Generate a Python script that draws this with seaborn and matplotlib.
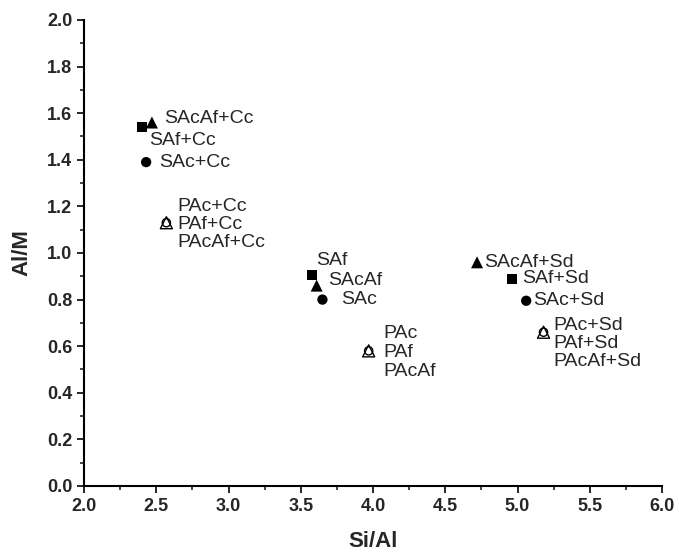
import pandas as pd
import matplotlib
matplotlib.use("Agg")
import matplotlib.pyplot as plt
import seaborn as sns
from matplotlib.ticker import MultipleLocator

# --- data ---
sac_si_al = [2.43, 3.65, 5.06]
sac_al_m = [1.39, 0.80, 0.795]
sac_labels = ["SAc+Cc", "SAc", "SAc+Sd"]

saf_si_al = [2.40, 3.58, 4.96]
saf_al_m = [1.54, 0.905, 0.89]
saf_labels = ["SAf+Cc", "SAf", "SAf+Sd"]

sacaf_si_al = [2.47, 3.61, 4.72]
sacaf_al_m = [1.56, 0.86, 0.96]
sacaf_labels = ["SAcAf+Cc", "SAcAf", "SAcAf+Sd"]

# PAc, PAf and PAcAf sit on top of each other
p_si_al = [2.57, 3.97, 5.18]
p_al_m = [1.13, 0.58, 0.66]
pac_labels = ["PAc+Cc", "PAc", "PAc+Sd"]
paf_labels = ["PAf+Cc", "PAf", "PAf+Sd"]
pacaf_labels = ["PAcAf+Cc", "PAcAf", "PAcAf+Sd"]

# label offsets in pixels (placement only)
sac_off = [(13, 0), (19, 0), (7, 0)]
saf_off = [(7, -13), (4, 15), (10, 0)]
sacaf_off = [(12, 4), (11, 5), (7, 0)]
p_off = [(11, 16), (15, 17), (10, 7)]
p_step = [18, 19, 18]

solid = pd.DataFrame({
    "Si/Al": sac_si_al + saf_si_al + sacaf_si_al,
    "Al/M": sac_al_m + saf_al_m + sacaf_al_m,
    "kind": ["SAc"] * 3 + ["SAf"] * 3 + ["SAcAf"] * 3,
})
hollow = pd.DataFrame({
    "Si/Al": p_si_al * 2,
    "Al/M": p_al_m * 2,
    "kind": ["PAcAf"] * 3 + ["PAc"] * 3,
})

sns.set_style("ticks")
plt.rcParams["font.family"] = ["Liberation Sans", "DejaVu Sans"]

fig = plt.figure(figsize=(6.79, 5.57), dpi=100)
ax = fig.add_axes([0.1237, 0.1275, 0.8513, 0.8366])

sns.scatterplot(data=solid, x="Si/Al", y="Al/M", style="kind", size="kind",
                markers={"SAc": "o", "SAf": "s", "SAcAf": "^"},
                sizes={"SAc": 55, "SAf": 50, "SAcAf": 75},
                color="black", edgecolor="black",
                linewidth=0, legend=False, ax=ax)
sns.scatterplot(data=hollow, x="Si/Al", y="Al/M", style="kind", size="kind",
                markers={"PAcAf": "^", "PAc": "o"},
                sizes={"PAcAf": 75, "PAc": 35},
                color="black", legend=False, ax=ax)
coll = ax.collections[-1]
coll.set_facecolor("none")
coll.set_edgecolor("black")
coll.set_linewidth(1.0)

fs = 14
for xs, ys, labs, offs in [(sac_si_al, sac_al_m, sac_labels, sac_off),
                           (saf_si_al, saf_al_m, saf_labels, saf_off),
                           (sacaf_si_al, sacaf_al_m, sacaf_labels, sacaf_off)]:
    for x, y, lab, (dx, dy) in zip(xs, ys, labs, offs):
        ax.annotate(lab, (x, y), xytext=(dx, dy), textcoords="offset pixels",
                    ha="left", va="center", fontsize=fs)

for i, (x, y) in enumerate(zip(p_si_al, p_al_m)):
    dx, dy = p_off[i]
    for j, lab in enumerate([pac_labels[i], paf_labels[i], pacaf_labels[i]]):
        ax.annotate(lab, (x, y), xytext=(dx, dy - j * p_step[i]),
                    textcoords="offset pixels", ha="left", va="center",
                    fontsize=fs)

ax.set_xlim(2.0, 6.0)
ax.set_ylim(0.0, 2.0)
ax.xaxis.set_major_locator(MultipleLocator(0.5))
ax.xaxis.set_minor_locator(MultipleLocator(0.25))
ax.yaxis.set_major_locator(MultipleLocator(0.2))
ax.yaxis.set_minor_locator(MultipleLocator(0.1))
ax.tick_params(which="major", length=5, width=1.4, labelsize=13, direction="out")
ax.tick_params(which="minor", length=3, width=1.2, direction="out")
for t in ax.get_xticklabels() + ax.get_yticklabels():
    t.set_fontweight("bold")

sns.despine(ax=ax)
for side in ["left", "bottom"]:
    ax.spines[side].set_linewidth(1.5)
    ax.spines[side].set_color("black")

ax.set_xlabel("Si/Al", fontsize=16, fontweight="bold", labelpad=12)
ax.set_ylabel("Al/M", fontsize=16, fontweight="bold", labelpad=10)

fig.savefig("out.png", dpi=100)
